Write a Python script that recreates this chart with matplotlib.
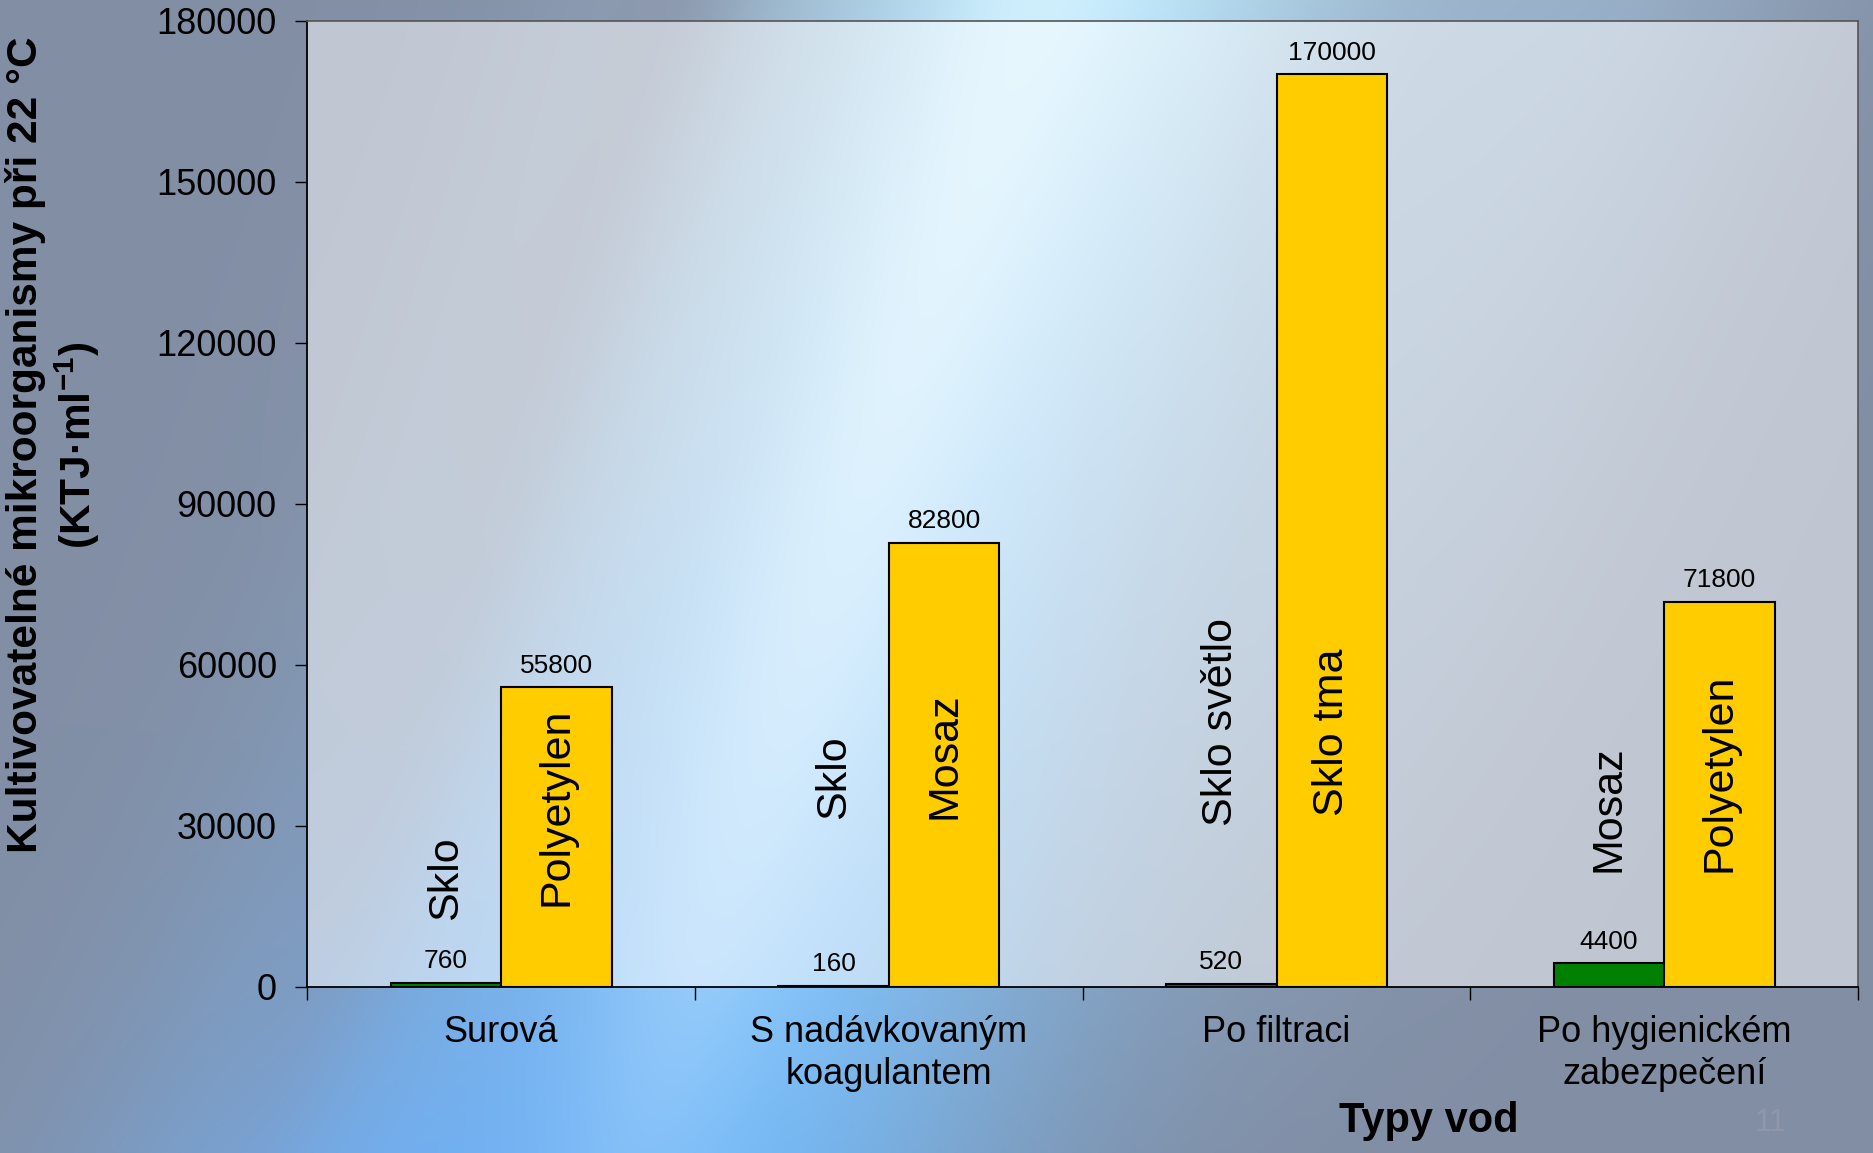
import numpy as np
import matplotlib
matplotlib.use("Agg")
import matplotlib.pyplot as plt

plt.rcParams["font.family"] = ["Liberation Sans", "DejaVu Sans"]
plt.rcParams["mathtext.fontset"] = "custom"
plt.rcParams["mathtext.rm"] = "Liberation Sans"
plt.rcParams["mathtext.bf"] = "Liberation Sans:bold"

# data
water_types = ["Surová", "S nadávkovaným\nkoagulantem", "Po filtraci", "Po hygienickém\nzabezpečení"]
left_materials = ["Sklo", "Sklo", "Sklo světlo", "Mosaz"]
right_materials = ["Polyetylen", "Mosaz", "Sklo tma", "Polyetylen"]
left_values = [760, 160, 520, 4400]
right_values = [55800, 82800, 170000, 71800]
yticks = [0, 30000, 60000, 90000, 120000, 150000, 180000]

# where the rotated material names start (data units)
left_label_base = [12500, 31200, 29900, 21400]
right_label_base = [15100, 31200, 31900, 21400]


def blend(img, color, weight):
    c = np.array(color) / 255
    wgt = weight[..., None]
    return img * (1 - wgt) + c * wgt


def background(w=640, h=400):
    X, Y = np.meshgrid(np.linspace(0, 1, w), np.linspace(0, 1, h))
    u = X * 1568 + 0.36 * Y * 965
    img = np.zeros((h, w, 3))
    img[:] = np.array([130, 142, 164]) / 255
    # broad light band, turning more saturated blue toward the bottom
    top_c = np.array([188, 230, 250]) / 255
    bot_c = np.array([118, 190, 250]) / 255
    col = top_c[None, None, :] * (1 - Y[..., None]) + bot_c[None, None, :] * Y[..., None]
    w1 = np.exp(-((u - 900) / 300) ** 2)[..., None]
    img = img * (1 - w1) + col * w1
    # narrow bright streak
    img = blend(img, (220, 245, 255), 0.6 * np.exp(-((u - 870) / 80) ** 2) * (1 - 0.4 * Y))
    # darker gray streak on its left
    img = blend(img, (135, 140, 160), 0.45 * np.exp(-((u - 560) / 60) ** 2))
    # blue toward the bottom
    img = blend(img, (112, 175, 245), 0.75 * Y ** 3 * np.exp(-((u - 720) / 260) ** 2))
    # softer light on the upper right
    img = blend(img, (168, 200, 225), 0.5 * np.exp(-((u - 1330) / 200) ** 2) * (1 - Y))
    return np.clip(img, 0, 1)


fig = plt.figure(figsize=(18.74, 11.53), dpi=100)
bg_ax = fig.add_axes([0, 0, 1, 1], zorder=-5)
bg_ax.imshow(background(), aspect="auto", extent=[0, 1, 0, 1], interpolation="bicubic")
bg_ax.axis("off")

ax = fig.add_axes([0.164, 0.144, 0.8275, 0.838])
ax.set_facecolor((1, 1, 1, 0.5))

x = np.arange(len(water_types))
w = 0.285
bl = ax.bar(x - w / 2, left_values, w, color="#008000", edgecolor="black", linewidth=1.5, zorder=3)
br = ax.bar(x + w / 2, right_values, w, color="#FFCC00", edgecolor="black", linewidth=1.5, zorder=3)

for bars in (bl, br):
    for b in bars:
        ax.annotate(f"{int(b.get_height())}", (b.get_x() + b.get_width() / 2, b.get_height()),
                    xytext=(0, 7), textcoords="offset points", ha="center", va="bottom",
                    fontsize=19, zorder=4)

for i in range(len(water_types)):
    ax.text(x[i] - w / 2, left_label_base[i], left_materials[i], rotation=90,
            ha="center", va="bottom", fontsize=31, zorder=4)
    ax.text(x[i] + w / 2, right_label_base[i], right_materials[i], rotation=90,
            ha="center", va="bottom", fontsize=31, zorder=4)

ax.set_xlim(-0.5, len(water_types) - 0.5)
ax.set_ylim(0, 180000)
ax.set_yticks(yticks)
ax.set_yticklabels([str(t) for t in yticks], fontsize=26)
ax.tick_params(axis="y", direction="out", length=9, width=1, pad=13)

ax.set_xticks(np.arange(len(water_types) + 1) - 0.5)
ax.set_xticklabels([])
ax.tick_params(axis="x", which="major", direction="out", length=9, width=1)
ax.set_xticks(x, minor=True)
ax.set_xticklabels(water_types, minor=True, fontsize=26, linespacing=1.27)
ax.tick_params(axis="x", which="minor", length=0, pad=20)

for s in ("left", "bottom"):
    ax.spines[s].set_color("black")
    ax.spines[s].set_linewidth(1.3)
for s in ("top", "right"):
    ax.spines[s].set_color("#555555")
    ax.spines[s].set_linewidth(1.2)

fig.text(0.0285, 0.614, "Kultivovatelné mikroorganismy při 22 °C\n(KTJ·ml$^{\\mathbf{-1}}$)",
         rotation=90, ha="center", va="center", multialignment="center",
         fontsize=30.5, fontweight="bold", linespacing=1.18)
fig.text(0.7625, 0.028, "Typy vod", ha="center", va="center", fontsize=30, fontweight="bold")
fig.text(0.945, 0.026, "11", ha="center", va="center", fontsize=22, color="#8f97aa")

fig.savefig("out.png", dpi=100)
